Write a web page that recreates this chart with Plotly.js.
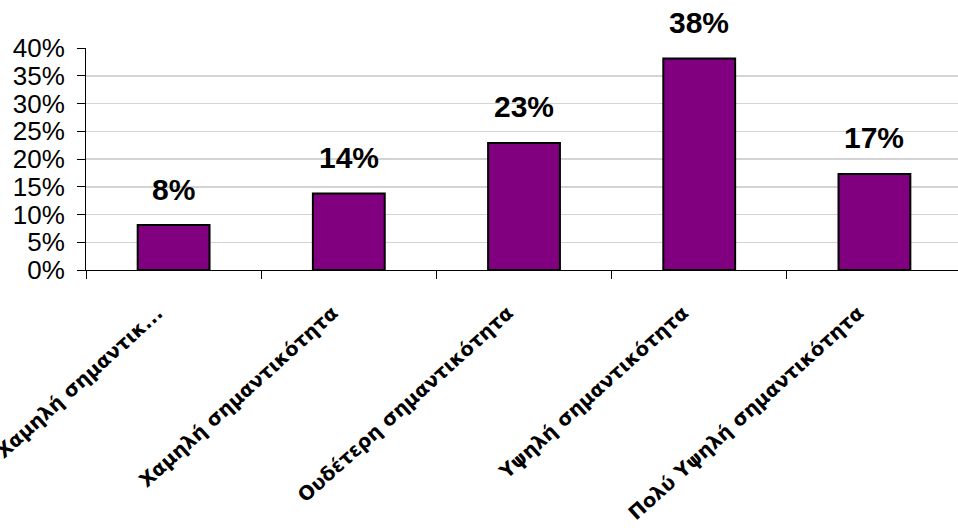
<!DOCTYPE html>
<html>
<head>
<meta charset="utf-8">
<script src="https://cdn.plot.ly/plotly-3.0.1.min.js"></script>
<style>html,body{margin:0;padding:0;background:#fff;}#chart{width:958px;height:530px;}</style>
</head>
<body>
<div id="chart"></div>
<script>
const categories = ["Πολύ Χαμηλή σημαντικ...", "Χαμηλή σημαντικότητα", "Ουδέτερη σημαντικότητα", "Υψηλή σημαντικότητα", "Πολύ Υψηλή σημαντικότητα"];
const values = [0.081, 0.138, 0.229, 0.381, 0.173];
const valueLabels = ["8%", "14%", "23%", "38%", "17%"];
const yTickVals = [0, 0.05, 0.10, 0.15, 0.20, 0.25, 0.30, 0.35, 0.40];
const yTickText = ["0%", "5%", "10%", "15%", "20%", "25%", "30%", "35%", "40%"];

const trace = {
  type: "bar",
  x: categories,
  y: values,
  marker: {color: "#800080", line: {color: "#000000", width: 2}},
  width: 0.41,
  hoverinfo: "none"
};

const annotations = categories.map((c, i) => ({
  x: c, y: values[i], xref: "x", yref: "y",
  text: valueLabels[i], showarrow: false,
  yanchor: "middle", yshift: 36,
  font: {family: "Liberation Sans, Arial, sans-serif", size: 30, color: "#000", weight: "bold"}
}));

const layout = {
  width: 958, height: 530,
  margin: {l: 86, r: 0, t: 48, b: 260},
  paper_bgcolor: "#ffffff", plot_bgcolor: "#ffffff",
  showlegend: false,
  bargap: 0.59,
  xaxis: {
    type: "category",
    range: [-0.5, 4.477],
    showline: true, linecolor: "#000", linewidth: 1,
    ticks: "outside", ticklen: 8, tickcolor: "#000", tickson: "boundaries",
    showgrid: false,
    tickangle: -42,
    ticklabelstandoff: 23,
    ticklabelshift: -16,
    tickfont: {family: "DejaVu Sans, sans-serif", size: 19.5, color: "#000", weight: "bold"}
  },
  yaxis: {
    range: [0, 0.40],
    tickvals: yTickVals, ticktext: yTickText,
    showline: true, linecolor: "#000", linewidth: 1,
    ticks: "outside", ticklen: 8, tickcolor: "#000",
    ticklabelstandoff: 7,
    showgrid: true, gridcolor: "#d4d4d4", gridwidth: 1.5,
    zeroline: false,
    tickfont: {family: "Liberation Sans, Arial, sans-serif", size: 26, color: "#000"}
  },
  annotations: annotations
};

Plotly.newPlot("chart", [trace], layout, {displayModeBar: false, staticPlot: true});
</script>
</body>
</html>
